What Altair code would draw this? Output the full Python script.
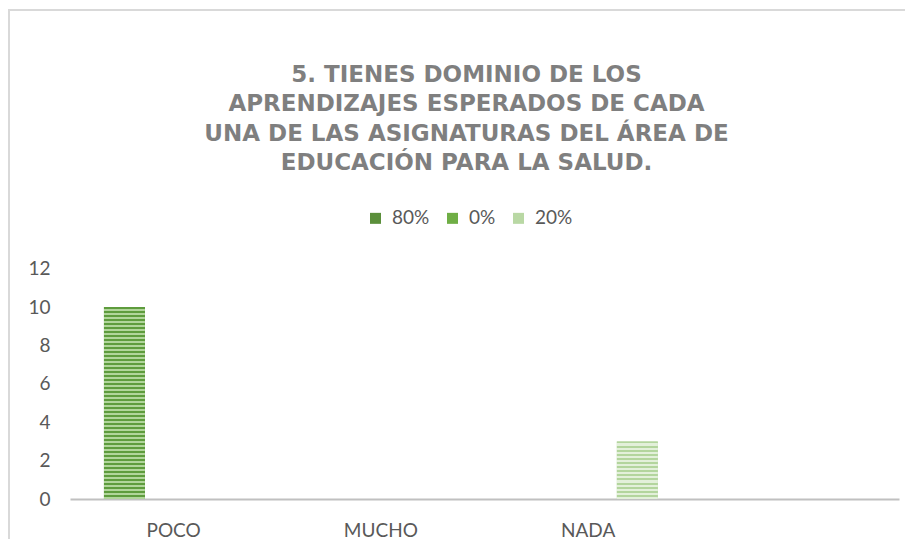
import altair as alt
import pandas as pd

# ---------------- data ----------------
categories = ["POCO", "MUCHO", "NADA", ""]
series = ["80%", "0%", "20%"]
values_80 = [10, 0, 0]
values_0 = [0, 0, 0]
values_20 = [0, 0, 3]
y_ticks = [0, 2, 4, 6, 8, 10, 12]
title_lines = [
    "5. TIENES DOMINIO  DE LOS",
    "APRENDIZAJES ESPERADOS DE CADA",
    "UNA DE LAS ASIGNATURAS DEL ÁREA DE",
    "EDUCACIÓN PARA LA SALUD.",
]

rows = []
for s, vals in zip(series, [values_80, values_0, values_20]):
    for c, v in zip(categories[:3], vals):
        rows.append({"cat": c, "serie": s, "valor": v})
df = pd.DataFrame(rows)

# ---------------- style ----------------
W, H = 829, 230.4
legend_colors = ["#5b8f3b", "#6fae45", "#b9d8a4"]
TXT = "#595959"


def stripes(dark, light, n):
    stops = []
    for i in range(n):
        a, m, b = i / n, (i + 0.5) / n, (i + 1) / n
        stops += [
            alt.GradientStop(offset=a, color=dark),
            alt.GradientStop(offset=m, color=dark),
            alt.GradientStop(offset=m, color=light),
            alt.GradientStop(offset=b, color=light),
        ]
    return alt.LinearGradient(gradient="linear", x1=0, y1=0, x2=0, y2=1, stops=stops)


stripe_fill = {
    "80%": stripes("#5e9c3d", "#b1d59b", 48),
    "0%": stripes("#6fae45", "#b9dca0", 14),
    "20%": stripes("#b3d59d", "#e3f0da", 14),
}

x_enc = alt.X(
    "cat:N",
    scale=alt.Scale(domain=categories, paddingInner=0, paddingOuter=0),
    axis=alt.Axis(
        title=None, labelAngle=0, ticks=False, grid=False,
        domainColor="#c0c0c0", domainWidth=2, labelPadding=22,
        labelFont="Lato", labelFontSize=19, labelColor=TXT,
    ),
)
xo_enc = alt.XOffset(
    "serie:N", scale=alt.Scale(domain=series, paddingInner=0.1675, paddingOuter=0.69)
)
y_enc = alt.Y(
    "valor:Q",
    scale=alt.Scale(domain=[0, 12], nice=False),
    axis=alt.Axis(
        title=None, values=y_ticks, ticks=False, domain=False, grid=False,
        labelPadding=20, labelFont="Lato", labelFontSize=19, labelColor=TXT,
    ),
)

base = alt.Chart(df).mark_bar().encode(
    x=x_enc,
    xOffset=xo_enc,
    y=y_enc,
    color=alt.Color(
        "serie:N",
        scale=alt.Scale(domain=series, range=legend_colors),
        legend=alt.Legend(
            title=None, orient="none", legendX=296, legendY=-60,
            direction="horizontal", symbolType="square", symbolSize=121,
            symbolStrokeWidth=0, labelFont="Lato", labelFontSize=19,
            labelColor=TXT, labelOffset=7, columnPadding=13,
        ),
    ),
)

overlays = [
    alt.Chart(df)
    .mark_bar(color=stripe_fill[s])
    .encode(x=x_enc, xOffset=xo_enc, y=y_enc)
    .transform_filter(alt.datum.serie == s)
    for s in series
]

border = (
    alt.Chart(pd.DataFrame({"k": [0]}))
    .mark_rect(fillOpacity=0, stroke="#d9d9d9", strokeWidth=2)
    .encode(
        x=alt.value(-61), x2=alt.value(W + 100),
        y=alt.value(-258.6), y2=alt.value(H + 100),
    )
)

chart = (
    alt.layer(border, base, *overlays)
    .properties(
        width=W,
        height=H,
        autosize="none",
        padding={"left": 62, "top": 260.6, "right": 6, "bottom": 40},
        title=alt.TitleParams(
            text=title_lines, font="DejaVu Sans", fontSize=23,
            fontWeight="bold", color="#7f7f7f", lineHeight=29.5,
            anchor="middle", frame="group", offset=-166, dx=-18,
        ),
    )
    .configure_view(stroke=None)
)

chart.save("out.html", embed_options={"renderer": "svg", "actions": False})
